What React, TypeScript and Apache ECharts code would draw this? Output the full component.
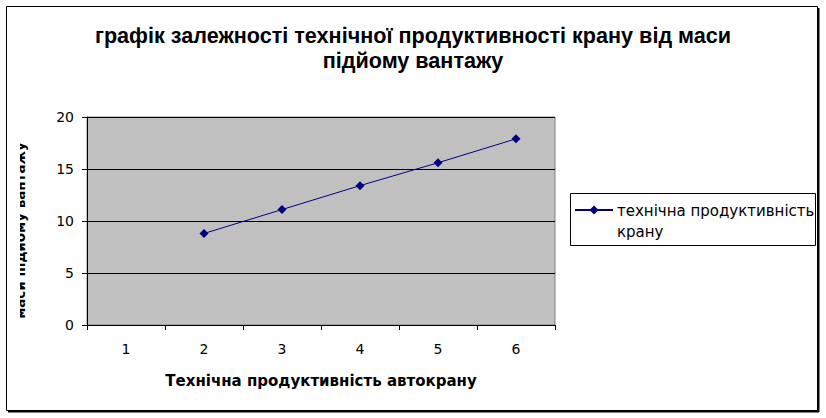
import React, { useEffect, useRef } from "react";
import * as echarts from "echarts";

const categories = ["1", "2", "3", "4", "5", "6"];
const productivity: (number | null)[] = [null, 8.8, 11.1, 13.4, 15.6, 17.9];
const seriesName = "технічна продуктивність крану";
const titleLine1 = "графік залежності технічної продуктивності крану від маси";
const titleLine2 = "підйому вантажу";
const xAxisTitle = "Технічна продуктивність автокрану";
const yAxisTitle = "маси підйому вантажу";

export default function App() {
  const ref = useRef<HTMLDivElement>(null);
  useEffect(() => {
    if (!ref.current) return;
    const chart = echarts.init(ref.current, null, { renderer: "svg" });
    const font = "'DejaVu Sans', sans-serif";
    const narrow = "'Liberation Sans Narrow', 'Liberation Sans', Arial, sans-serif";
    chart.setOption({
      animation: false,
      backgroundColor: "#ffffff",
      grid: {
        left: 87,
        right: 271,
        top: 117,
        bottom: 93,
        show: true,
        backgroundColor: "#C0C0C0",
        borderColor: "#808080",
        borderWidth: 1,
      },
      xAxis: {
        type: "category",
        data: categories,
        boundaryGap: true,
        axisLine: { lineStyle: { color: "#000", width: 1 } },
        axisTick: { show: true, length: 5, lineStyle: { color: "#000" } },
        axisLabel: { color: "#000", fontFamily: font, fontSize: 14, margin: 17 },
        splitLine: { show: false },
      },
      yAxis: {
        type: "value",
        min: 0,
        max: 20,
        interval: 5,
        axisLine: { show: true, lineStyle: { color: "#000", width: 1 } },
        axisTick: { show: true, length: 5, lineStyle: { color: "#000" } },
        axisLabel: { color: "#000", fontFamily: font, fontSize: 14, margin: 13 },
        splitLine: { show: true, lineStyle: { color: "#000", width: 1 } },
      },
      series: [
        {
          name: seriesName,
          type: "line",
          data: productivity,
          symbol: "diamond",
          symbolSize: 9,
          lineStyle: { color: "#000080", width: 1 },
          itemStyle: { color: "#000080" },
          connectNulls: false,
        },
      ],
      graphic: [
        {
          type: "text",
          x: 413,
          y: 35,
          style: {
            text: titleLine1,
            fontFamily: narrow,
            fontWeight: "bold",
            fontSize: 21.6,
            fill: "#000",
            align: "center",
            verticalAlign: "middle",
          },
        },
        {
          type: "text",
          x: 413,
          y: 60,
          style: {
            text: titleLine2,
            fontFamily: narrow,
            fontWeight: "bold",
            fontSize: 21.6,
            fill: "#000",
            align: "center",
            verticalAlign: "middle",
          },
        },
        {
          type: "text",
          x: 321,
          y: 381,
          style: {
            text: xAxisTitle,
            fontFamily: font,
            fontWeight: "bold",
            fontSize: 15,
            fill: "#000",
            align: "center",
            verticalAlign: "middle",
          },
        },
        {
          type: "text",
          x: 20,
          y: 230.5,
          rotation: Math.PI / 2,
          style: {
            text: yAxisTitle,
            fontFamily: font,
            fontWeight: "bold",
            fontSize: 13.5,
            fill: "#000",
            align: "center",
            verticalAlign: "middle",
          },
          z: 1,
        },
        {
          type: "rect",
          shape: { x: 7, y: 100, width: 13, height: 260 },
          style: { fill: "#ffffff" },
          z: 10,
        },
        {
          type: "rect",
          shape: { x: 6.5, y: 6.5, width: 811, height: 404 },
          style: { fill: "none", stroke: "#000", lineWidth: 1 },
          z: 11,
        },
        {
          type: "line",
          shape: { x1: 818.5, y1: 8, x2: 818.5, y2: 412 },
          style: { stroke: "#000", lineWidth: 2 },
          z: 11,
        },
        {
          type: "line",
          shape: { x1: 8, y1: 411.5, x2: 819, y2: 411.5 },
          style: { stroke: "#000", lineWidth: 2 },
          z: 11,
        },
        {
          type: "rect",
          shape: { x: 570.5, y: 193.5, width: 245, height: 52 },
          style: { fill: "#ffffff", stroke: "#000", lineWidth: 1 },
        },
        {
          type: "line",
          shape: { x1: 575, y1: 210, x2: 613, y2: 210 },
          style: { stroke: "#000080", lineWidth: 2 },
        },
        {
          type: "polygon",
          shape: { points: [[594, 205.5], [598.5, 210], [594, 214.5], [589.5, 210]] },
          style: { fill: "#000080" },
        },
        {
          type: "text",
          x: 617,
          y: 200,
          style: {
            text: "технічна продуктивність\nкрану",
            fontFamily: font,
            fontSize: 15,
            lineHeight: 21,
            fill: "#000",
            align: "left",
            verticalAlign: "top",
          },
        },
      ],
    });
    return () => chart.dispose();
  }, []);
  return (
    <div
      ref={ref}
      style={{ position: "fixed", left: 0, top: 0, width: 826, height: 418 }}
    />
  );
}
